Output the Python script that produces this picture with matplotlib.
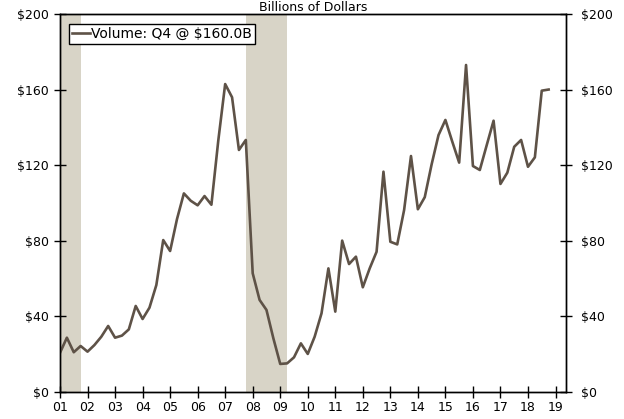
import numpy as np
import matplotlib.pyplot as plt

# quarterly volume, billions of dollars, 2001Q1 .. 2018Q4
volume = [20.6, 28.6, 20.9, 24.2,
          21.2, 24.7, 29.1, 34.8,
          28.6, 29.7, 33.0, 45.4,
          38.5, 44.5, 56.5, 80.3,
          74.5, 91.4, 105.0, 101.1,
          98.7, 103.6, 99.0, 133.0,
          162.9, 155.9, 128.0, 133.3,
          62.7, 48.6, 43.3, 28.3,
          14.7, 15.0, 18.2, 25.6,
          20.0, 29.1, 41.5, 65.3,
          42.4, 80.0, 67.6, 71.5,
          55.3, 65.3, 74.1, 116.5,
          79.4, 78.0, 96.2, 124.8,
          96.6, 103.0, 120.4, 135.9,
          143.9, 132.4, 121.3, 173.0,
          119.5, 117.4, 130.5, 143.5,
          110.0, 116.0, 129.7, 133.3,
          119.1, 124.1, 159.4, 160.0]
recessions = [(2001.0, 2001.75), (2007.75, 2009.25)]
year_ticks = list(range(2001, 2020))
year_labels = ["%02d" % (y % 100) for y in year_ticks]
y_ticks = [0, 40, 80, 120, 160, 200]
y_labels = ["$%d" % v for v in y_ticks]

line_color = "#5e5247"
shade_color = "#d8d4c7"

x = 2001 + np.arange(len(volume)) / 4.0

fig = plt.figure(figsize=(6.24, 4.19), dpi=100)
ax = fig.add_axes([60 / 624, 27.3 / 419, 505.7 / 624, 377.7 / 419])

for start, end in recessions:
    ax.axvspan(start, end, color=shade_color, lw=0, zorder=0)

ax.plot(x, volume, color=line_color, lw=1.9, label="Volume: Q4 @ $160.0B", zorder=3)

ax.set_xlim(2001, 2019.37)
ax.set_ylim(0, 200)
ax.set_xticks(year_ticks)
ax.set_xticklabels(year_labels)
ax.set_yticks(y_ticks)
ax.set_yticklabels(y_labels)
ax.tick_params(axis="both", direction="inout", length=8, width=1, labelsize=9, colors="black")
ax.tick_params(axis="x", pad=3)
ax.tick_params(axis="y", pad=4)

ax2 = ax.twinx()
ax2.set_ylim(0, 200)
ax2.set_yticks(y_ticks)
ax2.set_yticklabels(y_labels)
ax2.tick_params(axis="y", direction="inout", length=8, width=1, labelsize=9, pad=7)

for a in (ax, ax2):
    for s in a.spines.values():
        s.set_color("black")
        s.set_linewidth(1)

leg = ax.legend(loc="upper left", bbox_to_anchor=(9 / 505.7, 1 - 10 / 377.7),
                borderaxespad=0, fontsize=10, handlelength=1.3, handletextpad=0.1,
                borderpad=0.2, fancybox=False, framealpha=1)
leg.get_frame().set_edgecolor("black")
leg.get_frame().set_linewidth(1)

fig.text(312.9 / 624, 1 - 11 / 419, "Billions of Dollars", ha="center", va="baseline", fontsize=9)

fig.savefig("out.png", dpi=100)
